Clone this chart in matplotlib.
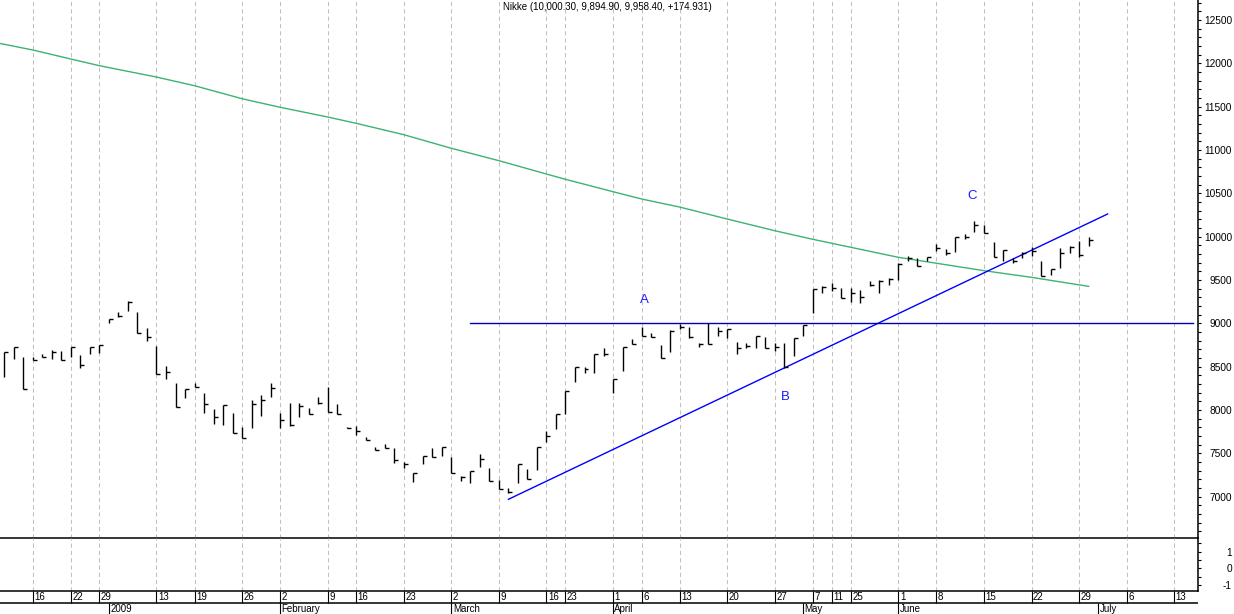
import matplotlib
matplotlib.use('Agg')
import matplotlib.pyplot as plt
from matplotlib.ticker import MultipleLocator

plt.rcParams['font.family'] = ['Liberation Sans', 'DejaVu Sans']
plt.rcParams['axes.unicode_minus'] = False

# daily bars (high, low, close), bar index 0 = 12 Dec 2008
highs = [8673, 8724, 8608, 8608, 8646, 8692, 8684, 8731, 8631, 8731,
         8747, 9047, 9134, 9261, 9134, 8943, 8739, 8508, 8308, 8243,
         8315, 8193, 8012, 8054, 7962, 7808, 8116, 8170, 8308, 7962,
         8077, 8077, 8020, 8147, 8262, 8069, 7808, 7816, 7692, 7570,
         7604, 7558, 7404, 7270, 7469, 7558, 7570, 7461, 7239, 7296,
         7489, 7334, 7193, 7104, 7376, 7320, 7577, 7758, 7954, 8220,
         8493, 8500, 8643, 8712, 8358, 8724, 8816, 8962, 8885, 8750,
         8923, 8992, 8962, 8770, 9000, 8954, 8931, 8788, 8770, 8854,
         8846, 8770, 8770, 8835, 8981, 9393, 9431, 9462, 9404, 9404,
         9385, 9489, 9500, 9520, 9693, 9777, 9750, 9769, 9915, 9854,
         10000, 10031, 10181, 10135, 9942, 9846, 9758, 9827, 9885, 9719,
         9627, 9866, 9892, 9954, 10000.3]
lows = [8385, 8589, 8239, 8577, 8608, 8585, 8577, 8615, 8481, 8646,
        8661, 9000, 9077, 9146, 8885, 8800, 8412, 8358, 8031, 8135,
        8262, 7969, 7835, 7824, 7738, 7681, 7789, 7935, 8147, 7796,
        7816, 7916, 7951, 8069, 7974, 7951, 7789, 7708, 7654, 7539,
        7558, 7385, 7328, 7173, 7374, 7455, 7469, 7277, 7185, 7154,
        7346, 7185, 7085, 7046, 7161, 7201, 7308, 7635, 7777, 7951,
        8327, 8431, 8431, 8627, 8193, 8454, 8758, 8858, 8839, 8597,
        8673, 8931, 8827, 8731, 8758, 8854, 8827, 8646, 8719, 8712,
        8712, 8684, 8481, 8623, 8854, 9116, 9354, 9377, 9296, 9250,
        9238, 9431, 9354, 9442, 9500, 9723, 9665, 9719, 9835, 9788,
        9820, 9970, 10058, 10039, 9769, 9719, 9693, 9750, 9777, 9546,
        9558, 9635, 9815, 9762, 9894.9]
closes = [8673, 8724, 8239, 8577, 8608, 8673, 8577, 8731, 8516, 8731,
          8747, 9047, 9085, 9246, 8885, 8846, 8412, 8442, 8031, 8243,
          8262, 8069, 7916, 8054, 7738, 7681, 8069, 8116, 8258, 7885,
          7824, 8046, 7951, 8085, 7974, 7951, 7789, 7761, 7654, 7539,
          7558, 7423, 7377, 7270, 7469, 7455, 7570, 7277, 7231, 7296,
          7435, 7185, 7085, 7058, 7376, 7201, 7577, 7700, 7954, 8220,
          8493, 8470, 8643, 8643, 8358, 8724, 8762, 8858, 8839, 8597,
          8915, 8962, 8846, 8758, 8758, 8915, 8931, 8719, 8739, 8854,
          8712, 8731, 8500, 8827, 8981, 9393, 9423, 9404, 9296, 9347,
          9301, 9442, 9489, 9512, 9685, 9750, 9665, 9762, 9866, 9808,
          9993, 9993, 10135, 10046, 9769, 9846, 9719, 9815, 9838, 9546,
          9624, 9808, 9885, 9789, 9958.4]

# moving average at some bars
ma_idx = [-1, 0, 3, 7, 10, 16, 20, 25, 29, 34, 37, 42, 47, 52, 57, 59, 64, 67,
          71, 76, 81, 85, 94, 103, 108, 114]
ma_val = [12240, 12220, 12154, 12050, 11973, 11842, 11742, 11592, 11493, 11381,
          11308, 11177, 11020, 10877, 10723, 10662, 10519, 10435, 10342, 10204,
          10069, 9970, 9762, 9608, 9531, 9427]

# drawn lines
trend_idx = [53, 116]
trend_val = [6970, 10262]
res_idx = [49, 125]
res_val = [9000, 9000]

# annotations
note_txt = ['A', 'B', 'C']
note_idx = [67.25, 82.1, 101.8]
note_val = [9269, 8150, 10469]

# date axis
day_idx = [3, 7, 10, 16, 20, 25, 29, 34, 37, 42, 47, 52, 57, 59, 64, 67, 71, 76,
           81, 85, 87, 89, 94, 98, 103, 108, 113, 118, 123]
day_lbl = ['16', '22', '29', '13', '19', '26', '2', '9', '16', '23', '2', '9', '16',
           '23', '1', '6', '13', '20', '27', '7', '11', '25', '1', '8', '15', '22',
           '29', '6', '13']
month_idx = [11, 29, 47, 64, 84, 94, 115]
month_lbl = ['2009', 'February', 'March', 'April', 'May', 'June', 'July']

title = 'Nikke (10,000.30, 9,894.90, 9,958.40, +174.931)'

W, H = 1234, 614
XL = (-0.452, 125.5)
fig = plt.figure(figsize=(W / 100, H / 100), dpi=100)

ax = fig.add_axes([0, 1 - 538.3 / H, 1198 / W, 538.3 / H])
ax2 = fig.add_axes([0, 1 - 591 / H, 1198 / W, (591 - 538.3) / H])
axd = fig.add_axes([0, 0, 1198 / W, 23 / H])
ax2.patch.set_visible(False)
axd.patch.set_visible(False)

grid_kw = dict(color='#c0c0c0', lw=0.75, ls=(0, (4, 3)), zorder=0)
for a in (ax, ax2):
    a.set_xlim(*XL)
    for d in day_idx:
        a.axvline(d, **grid_kw)
    a.spines['top'].set_visible(False)
    a.spines['left'].set_visible(False)
    a.spines['bottom'].set_linewidth(1.1)
    a.spines['right'].set_linewidth(1.1)
    a.set_xticks([])
    a.yaxis.tick_right()
    a.tick_params(axis='y', which='both', direction='out', length=2.5, width=0.8,
                  pad=22, labelsize=7.3)

# price panel
ax.set_ylim(6520, 12731)
ax.set_yticks(range(7000, 12501, 500))
ax.yaxis.set_minor_locator(MultipleLocator(100))
for lab in ax.get_yticklabels():
    lab.set_ha('right')

idx = list(range(len(highs)))
ax.vlines(idx, lows, highs, color='black', lw=1.0, zorder=3)
ax.hlines(closes, idx, [i + 0.42 for i in idx], color='black', lw=1.0, zorder=3)
ax.plot(ma_idx, ma_val, color='#3cb371', lw=1.0, zorder=2)
ax.plot(trend_idx, trend_val, color='#0000ff', lw=1.0, zorder=2)
ax.plot(res_idx, res_val, color='#0000b4', lw=1.0, zorder=2)
for t, x, y in zip(note_txt, note_idx, note_val):
    ax.text(x, y, t, color='#1a1aff', fontsize=9.5, ha='center', va='center')

# lower (empty) panel
ax2.set_ylim(-1.37, 1.81)
ax2.set_yticks([-1, 0, 1])
ax2.yaxis.set_minor_locator(MultipleLocator(0.5))
for lab in ax2.get_yticklabels():
    lab.set_ha('right')

# date rows
axd.set_xlim(*XL)
axd.set_ylim(0, 23)
axd.axis('off')
axd.hlines(10.7, XL[0], XL[1], color='black', lw=1.1)
axd.vlines(day_idx, 10.7, 23, color='black', lw=0.8)
axd.vlines(month_idx, 0, 10.7, color='black', lw=0.8)
for d, s in zip(day_idx, day_lbl):
    axd.text(d + 0.15, 16.8, s, fontsize=7, ha='left', va='center')
for m, s in zip(month_idx, month_lbl):
    axd.text(m + 0.15, 5.2, s, fontsize=7, ha='left', va='center')

fig.text(503 / W, 1 - 6.5 / H, title, fontsize=7, ha='left', va='center')

fig.savefig('out.png', dpi=100)
